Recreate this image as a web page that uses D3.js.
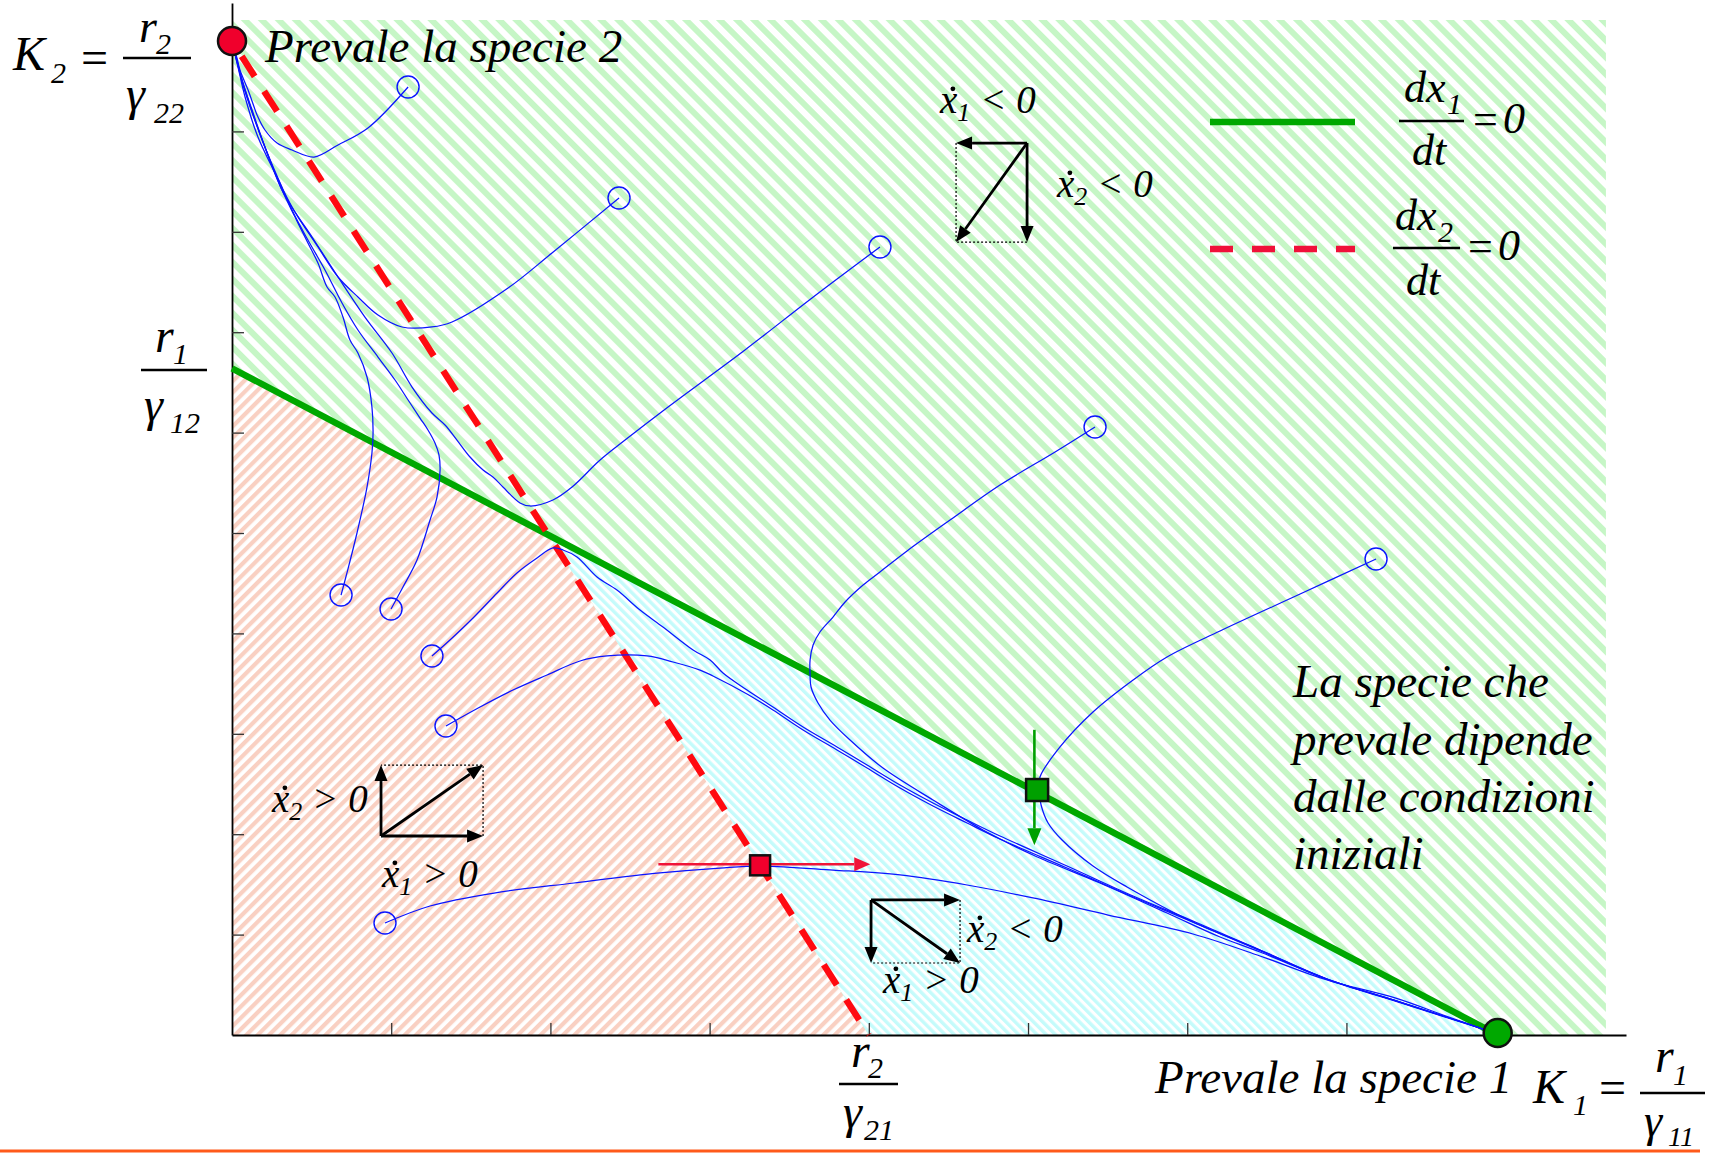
<!DOCTYPE html>
<html>
<head>
<meta charset="utf-8">
<script src="https://cdn.jsdelivr.net/npm/d3@7"></script>
<style>
  html, body { margin: 0; padding: 0; background: #fff; }
  svg { display: block; }
</style>
</head>
<body>
<svg id="chart" width="1717" height="1156"></svg>
<script>
// ---- Model constants (axis units) ----
const K1 = 7.95;      // K1 = r1/γ11, species 1 alone
const K2 = 9.9;       // K2 = r2/γ22, species 2 alone
const R1G12 = 6.64;   // r1/γ12, where dx1/dt = 0 meets the x2 axis
const R2G21 = 4.0;    // r2/γ21, where dx2/dt = 0 meets the x1 axis

const xTicks = [1, 2, 3, 4, 5, 6, 7];
const yTicks = [1, 2, 3, 4, 5, 6, 7, 8, 9];

// ---- Simulated trajectories [x1, x2]; first point = initial condition ----
const traj1 = [[1.106,9.442],[0.854,9.034],[0.666,8.865],[0.515,8.745],[0.377,8.815],[0.283,8.884],[0.207,9.014],[0.163,9.143],[0.101,9.412],[0.050,9.612],[0.031,9.731],[0.006,9.861],[0,9.9]];
const traj2 = [[2.431,8.337],[2.010,7.789],[1.734,7.440],[1.382,7.102],[1.256,7.052],[1.068,7.052],[0.917,7.171],[0.791,7.351],[0.666,7.550],[0.540,7.849],[0.415,8.147],[0.314,8.416],[0.207,8.845],[0.126,9.213],[0.063,9.512],[0.031,9.711],[0,9.9]];
const traj3 = [[4.070,7.849],[3.643,7.341],[3.222,6.823],[2.739,6.255],[2.469,5.926],[2.312,5.727],[2.136,5.458],[2.016,5.329],[1.872,5.269],[1.809,5.299],[1.702,5.458],[1.639,5.558],[1.577,5.627],[1.495,5.757],[1.413,5.926],[1.338,6.076],[1.256,6.195],[1.131,6.454],[1.005,6.793],[0.835,7.151],[0.666,7.550],[0.503,7.948],[0.377,8.247],[0.270,8.586],[0.163,8.944],[0.082,9.343],[0.038,9.641],[0,9.9]];
const traj4 = [[5.421,6.056],[5.170,5.807],[4.824,5.478],[4.510,5.129],[4.240,4.821],[4.070,4.612],[3.964,4.482],[3.851,4.313],[3.775,4.163],[3.693,4.014],[3.650,3.884],[3.631,3.735],[3.631,3.586],[3.637,3.466],[3.681,3.307],[3.756,3.137],[3.882,2.938],[4.089,2.659],[4.403,2.341],[4.717,2.042],[5.031,1.793],[5.452,1.514],[5.873,1.215],[6.206,0.976],[6.457,0.827],[6.878,0.558],[7.293,0.349],[7.607,0.189],[7.820,0.080],[7.946,0.01]];
const traj5 = [[7.186,4.741],[6.709,4.392],[6.206,4.024],[5.873,3.765],[5.660,3.536],[5.408,3.217],[5.201,2.869],[5.075,2.570],[5.069,2.440],[5.082,2.291],[5.126,2.112],[5.214,1.942],[5.408,1.683],[5.622,1.474],[6.036,1.125],[6.457,0.847],[6.878,0.558],[7.293,0.349],[7.607,0.189],[7.820,0.080],[7.946,0.01]];
const traj6 = [[0.685,4.382],[0.722,4.602],[0.785,5.000],[0.848,5.458],[0.879,5.797],[0.886,5.996],[0.879,6.255],[0.848,6.554],[0.791,6.793],[0.741,6.922],[0.697,7.151],[0.647,7.351],[0.597,7.450],[0.540,7.689],[0.477,7.888],[0.396,8.147],[0.314,8.416],[0.226,8.765],[0.144,9.114],[0.082,9.412],[0.038,9.661],[0,9.9]];
const traj7 = [[0.999,4.243],[1.074,4.462],[1.162,4.731],[1.244,5.129],[1.288,5.359],[1.307,5.627],[1.300,5.777],[1.275,5.896],[1.231,6.026],[1.181,6.145],[1.106,6.325],[1.024,6.524],[0.917,6.753],[0.791,7.022],[0.691,7.291],[0.584,7.620],[0.477,7.918],[0.383,8.197],[0.302,8.486],[0.214,8.815],[0.132,9.163],[0.069,9.462],[0.031,9.691],[0,9.9]];
const traj8 = [[1.256,3.775],[1.369,3.934],[1.514,4.153],[1.665,4.402],[1.790,4.602],[1.916,4.751],[2.016,4.851],[2.079,4.831],[2.167,4.761],[2.293,4.562],[2.418,4.432],[2.563,4.233],[2.707,4.064],[2.896,3.835],[3.003,3.735],[3.084,3.606],[3.235,3.436],[3.398,3.267],[3.587,3.068],[3.800,2.869],[3.989,2.689],[4.196,2.490],[4.403,2.311],[4.617,2.141],[4.824,1.982],[5.245,1.683],[5.660,1.384],[6.036,1.135],[6.457,0.847],[6.878,0.558],[7.293,0.349],[7.607,0.189],[7.820,0.080],[7.946,0.01]];
const traj9 = [[1.344,3.078],[1.558,3.267],[1.765,3.436],[1.979,3.586],[2.186,3.725],[2.356,3.775],[2.607,3.775],[2.770,3.715],[2.940,3.635],[3.021,3.576],[3.235,3.396],[3.398,3.237],[3.587,3.038],[3.800,2.839],[3.989,2.659],[4.196,2.460],[4.403,2.281],[4.617,2.112],[4.824,1.952],[5.245,1.663],[5.660,1.375],[6.036,1.125],[6.457,0.840],[6.878,0.553],[7.293,0.345],[7.607,0.186],[7.820,0.078],[7.946,0.01]];
const traj10 = [[0.961,1.116],[1.244,1.285],[1.646,1.414],[2.148,1.514],[2.688,1.614],[3.065,1.663],[3.317,1.683],[3.775,1.643],[4.196,1.594],[4.617,1.494],[5.031,1.365],[5.503,1.195],[6.036,1.006],[6.457,0.787],[6.878,0.548],[7.305,0.369],[7.607,0.199],[7.820,0.080],[7.946,0.01]];
const trajectories = [traj1, traj2, traj3, traj4, traj5, traj6, traj7, traj8, traj9, traj10];

// Points where a trajectory crosses an isocline, with the direction of motion there
const crossRed = [3.317, 1.69];            // crosses dx2/dt = 0 horizontally
const crossRedArrow = [[2.678, 1.70], [4.009, 1.70]];
const crossGreen = [5.057, 2.44];          // crosses dx1/dt = 0 vertically
const crossGreenArrow = [[5.04, 3.04], [5.04, 1.89]];

// Direction diagrams: origin corner and opposite corner
const diagUpper = [[4.994, 8.884], [4.548, 7.898]];   // ẋ1 < 0, ẋ2 < 0
const diagLower = [[0.936, 1.982], [1.577, 2.689]];   // ẋ1 > 0, ẋ2 > 0
const diagMiddle = [[4.014, 1.345], [4.573, 0.717]];  // ẋ1 > 0, ẋ2 < 0

// ---- Scales ----
const x = d3.scaleLinear().domain([0, 8.756]).range([232, 1626]);
const y = d3.scaleLinear().domain([0, 10.28]).range([1035, 2.9]);
const plotMaxX = 8.63, plotMaxY = 10.11;

const SERIF = "'Liberation Serif', 'DejaVu Serif', serif";

const svg = d3.select("#chart");
const defs = svg.append("defs");

function stripes(id, period, stripe, color, angle) {
  const p = defs.append("pattern").attr("id", id)
    .attr("patternUnits", "userSpaceOnUse")
    .attr("width", period).attr("height", period)
    .attr("patternTransform", `rotate(${angle})`);
  p.append("rect").attr("width", period).attr("height", period).attr("fill", "#fff");
  p.append("rect").attr("width", stripe).attr("height", period).attr("fill", color);
}
stripes("hGreen", 12, 6, "#c6f6c6", -45);
stripes("hRed", 8, 4.2, "#f9d0c2", 45);
stripes("hCyan", 6.5, 3.4, "#c4fbfb", -45);

// ---- Regions ----
// intersection of the two isoclines
const xi = (K2 - R1G12) / (K2 / R2G21 - R1G12 / K1);
const yi = K2 * (1 - xi / R2G21);
const poly = pts => "M" + pts.map(p => `${x(p[0])},${y(p[1])}`).join("L") + "Z";

svg.append("path").attr("d", poly([[0, 0], [0, plotMaxY], [plotMaxX, plotMaxY], [plotMaxX, 0]]))
  .attr("fill", "url(#hGreen)");
svg.append("path").attr("d", poly([[0, 0], [0, R1G12], [xi, yi], [R2G21, 0]]))
  .attr("fill", "url(#hRed)");
svg.append("path").attr("d", poly([[xi, yi], [R2G21, 0], [K1, 0]]))
  .attr("fill", "url(#hCyan)");

// ---- Axes ----
const xAxis = svg.append("g").attr("transform", `translate(0,${y(0)})`)
  .call(d3.axisBottom(x).tickValues(xTicks).tickSize(-12).tickSizeOuter(0).tickFormat(""));
const yAxis = svg.append("g").attr("transform", `translate(${x(0)},0)`)
  .call(d3.axisLeft(y).tickValues(yTicks).tickSize(-12).tickSizeOuter(0).tickFormat(""));
[xAxis, yAxis].forEach(a => {
  a.select(".domain").attr("stroke", "#000").attr("stroke-width", 1.8);
  a.selectAll(".tick line").attr("stroke", "#333").attr("stroke-width", 1.3);
});

// ---- Isoclines ----
const line = d3.line().x(d => x(d[0])).y(d => y(d[1]));
svg.append("path").attr("d", line([[0, R1G12], [K1, 0]]))
  .attr("stroke", "#00a800").attr("stroke-width", 6.5).attr("fill", "none");
svg.append("path").attr("d", line([[0, K2], [R2G21, 0]]))
  .attr("stroke", "#ff0a10").attr("stroke-width", 6.5).attr("fill", "none")
  .attr("stroke-dasharray", "24,17.5").attr("stroke-dashoffset", -18);

// ---- Trajectories ----
const trajLine = d3.line().x(d => x(d[0])).y(d => y(d[1])).curve(d3.curveCatmullRom.alpha(0.5));
const tg = svg.append("g");
trajectories.forEach(t => {
  tg.append("path").attr("d", trajLine(t))
    .attr("stroke", "#0a14ff").attr("stroke-width", 1.25).attr("fill", "none");
  tg.append("circle").attr("cx", x(t[0][0])).attr("cy", y(t[0][1])).attr("r", 11)
    .attr("stroke", "#0a14ff").attr("stroke-width", 1.4).attr("fill", "none");
});

// ---- Arrows ----
function arrow(g, x1, y1, x2, y2, color, w, hl, hw) {
  const a = Math.atan2(y2 - y1, x2 - x1);
  const bx = x2 - hl * Math.cos(a), by = y2 - hl * Math.sin(a);
  g.append("line").attr("x1", x1).attr("y1", y1).attr("x2", bx).attr("y2", by)
    .attr("stroke", color).attr("stroke-width", w);
  const px = -Math.sin(a) * hw / 2, py = Math.cos(a) * hw / 2;
  g.append("path").attr("d", `M${x2},${y2}L${bx + px},${by + py}L${bx - px},${by - py}Z`)
    .attr("fill", color);
}

// direction diagrams
function diagram(d) {
  const g = svg.append("g");
  const ox = x(d[0][0]), oy = y(d[0][1]), tx = x(d[1][0]), ty = y(d[1][1]);
  g.append("path").attr("d", `M${tx},${oy}L${tx},${ty}L${ox},${ty}`)
    .attr("stroke", "#000").attr("stroke-width", 1.2).attr("stroke-dasharray", "2,2").attr("fill", "none");
  arrow(g, ox, oy, tx, oy, "#000", 2.8, 16, 13);
  arrow(g, ox, oy, ox, ty, "#000", 2.8, 16, 13);
  arrow(g, ox, oy, tx, ty, "#000", 2.8, 16, 13);
}
diagram(diagUpper);
diagram(diagLower);
diagram(diagMiddle);

// crossing markers with their direction arrows
const mg = svg.append("g");
arrow(mg, x(crossRedArrow[0][0]), y(crossRedArrow[0][1]), x(crossRedArrow[1][0]), y(crossRedArrow[1][1]), "#f01438", 2.6, 16, 14);
arrow(mg, x(crossGreenArrow[0][0]), y(crossGreenArrow[0][1]), x(crossGreenArrow[1][0]), y(crossGreenArrow[1][1]), "#00a000", 2.6, 17, 14);
mg.append("rect").attr("x", x(crossRed[0]) - 10).attr("y", y(crossRed[1]) - 10)
  .attr("width", 20).attr("height", 20).attr("fill", "#f0002c").attr("stroke", "#111").attr("stroke-width", 2.5);
mg.append("rect").attr("x", x(crossGreen[0]) - 11).attr("y", y(crossGreen[1]) - 11)
  .attr("width", 22).attr("height", 22).attr("fill", "#00a000").attr("stroke", "#111").attr("stroke-width", 2.5);

// equilibria
svg.append("circle").attr("cx", x(0)).attr("cy", y(K2)).attr("r", 14)
  .attr("fill", "#f0002c").attr("stroke", "#111").attr("stroke-width", 2.5);
svg.append("circle").attr("cx", x(K1)).attr("cy", y(0) - 2).attr("r", 14)
  .attr("fill", "#00a800").attr("stroke", "#111").attr("stroke-width", 2.5);

// ---- Legend ----
svg.append("line").attr("x1", 1210).attr("x2", 1355).attr("y1", 122).attr("y2", 122)
  .attr("stroke", "#00a800").attr("stroke-width", 6.5);
svg.append("line").attr("x1", 1210).attr("x2", 1355).attr("y1", 249).attr("y2", 249)
  .attr("stroke", "#f0103a").attr("stroke-width", 6.5).attr("stroke-dasharray", "23,19");

// ---- Text helpers ----
function txt(xp, yp, str, size, italic = true, anchor = "start") {
  return svg.append("text").attr("x", xp).attr("y", yp)
    .attr("font-family", SERIF).attr("font-size", size)
    .attr("font-style", italic ? "italic" : "normal")
    .attr("fill", "#000").attr("text-anchor", anchor).text(str);
}
function bar(x1, x2, yp) {
  svg.append("line").attr("x1", x1).attr("x2", x2).attr("y1", yp).attr("y2", yp)
    .attr("stroke", "#000").attr("stroke-width", 2.4);
}
function rateLabel(x0, base, idx, rel) {
  const size = 39;
  const t = txt(x0, base, null, size);
  t.append("tspan").text("x");
  t.append("tspan").attr("font-size", 26).attr("dy", 8).text(idx);
  t.append("tspan").attr("dy", -8).text(" " + rel + " 0");
  svg.append("circle").attr("cx", x0 + 0.33 * size).attr("cy", base - 0.62 * size).attr("r", 2.4).attr("fill", "#000");
}

// legend fractions
txt(1404, 102, "dx", 44); txt(1447, 114, "1", 30);
bar(1399, 1464, 121);
txt(1412, 165, "dt", 44);
txt(1473, 134, "=", 44, false); txt(1503, 133, "0", 44);

txt(1395, 230, "dx", 44); txt(1438, 242, "2", 30);
bar(1393, 1460, 248);
txt(1406, 295, "dt", 44);
txt(1468, 261, "=", 44, false); txt(1498, 260, "0", 44);

// direction labels
rateLabel(940, 113, "1", "<");
rateLabel(1057, 197, "2", "<");
rateLabel(272, 812, "2", ">");
rateLabel(382, 887, "1", ">");
rateLabel(967, 942, "2", "<");
rateLabel(883, 993, "1", ">");

// annotations
txt(265, 62, "Prevale la specie 2", 47);
txt(1155, 1093, "Prevale la specie 1", 47);
["La specie che", "prevale dipende", "dalle condizioni", "iniziali"].forEach((s, i) => {
  txt(1293, [697, 755, 812, 869][i], s, 47);
});

// axis intercept labels
// K2 = r2/γ22
txt(13, 70, "K", 48); txt(51, 83, "2", 30);
txt(81, 74, "=", 48, false);
bar(123, 191, 58);
txt(139, 42, "r", 46); txt(156, 54, "2", 30);
txt(126, 110, "γ", 48); txt(154, 123, "22", 30);

// r1/γ12
bar(141, 207, 370);
txt(155, 352, "r", 48); txt(173, 364, "1", 30);
txt(144, 421, "γ", 48); txt(170, 433, "12", 30);

// r2/γ21
bar(839, 898, 1084);
txt(851, 1067, "r", 48); txt(868, 1078, "2", 30);
txt(843, 1128, "γ", 48); txt(864, 1140, "21", 30);

// K1 = r1/γ11
txt(1533, 1103, "K", 48); txt(1573, 1115, "1", 30);
txt(1599, 1104, "=", 48, false);
bar(1640, 1705, 1093);
txt(1655, 1072, "r", 48); txt(1673, 1085, "1", 30);
txt(1644, 1136, "γ", 46); txt(1668, 1146, "11", 28);

// footer rule
svg.append("line").attr("x1", 0).attr("x2", 1700).attr("y1", 1151).attr("y2", 1151)
  .attr("stroke", "#ff5a1a").attr("stroke-width", 3);
</script>
</body>
</html>
